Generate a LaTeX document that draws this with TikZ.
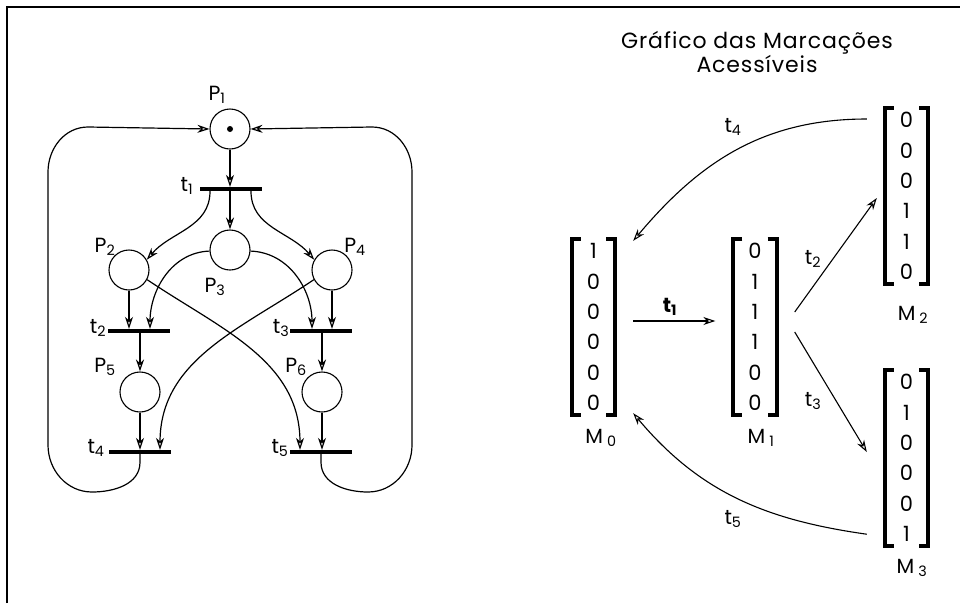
\documentclass[tikz,border=0pt]{standalone}
\usepackage{fontspec}
\setmainfont{Poppins}
\usetikzlibrary{positioning,arrows.meta,calc}
\tikzset{
  >={Stealth[open,length=12pt,width=8pt]},
  place/.style={circle,draw,line width=1.1pt,minimum size=40pt,inner sep=0pt},
  token/.style={circle,fill=black,minimum size=6pt,inner sep=0pt},
  trans/.style={fill=black,minimum width=62pt,minimum height=4pt,inner sep=0pt},
  arc/.style={->,line width=1.2pt},
  edge/.style={->,line width=1.1pt},
  lbl/.style={font=\fontsize{20.5}{22}\selectfont,inner sep=0pt},
  vec/.style={align=center,font=\fontsize{21}{30.4}\selectfont,minimum width=43pt,minimum height=176pt,inner sep=0pt},
  brk/.style={line width=4pt},
}
\begin{document}
\begin{tikzpicture}[x=1pt,y=-1pt]
  \useasboundingbox (0,0) rectangle (960,603);
  \draw[line width=2.5pt] (7,603) -- (7,7) -- (960,7);

  % rede de Petri
  \foreach \n/\x/\y in {1/230/129,2/129/270,3/230/250,4/332/270,5/140/392,6/322/392}
    \node[place] (P\n) at (\x,\y) {};
  \node[token] (tok) at (P1) {};
  \foreach \n/\x/\y in {1/217/95,2/105/247,3/215/287,4/355/247,5/105/367,6/296/367}
    \node[lbl] (lP\n) at (\x,\y) {P\textsubscript{\n}};
  \foreach \n/\x/\y in {1/187/186,2/98/328,3/281/328,4/96/448,5/280/448}
    \node[lbl] (lt\n) at (\x,\y) {t\textsubscript{\n}};
  \foreach \n/\x/\y in {1/231/189,2/139/331,3/321/331,4/140/452,5/321/452}
    \node[trans] (t\n) at (\x,\y) {};

  \draw[arc] (P1) -- (P1 |- t1.north);
  \draw[arc] (P3 |- t1.south) -- (P3);
  \draw[arc] ([xshift=-21]t1.south) to[out=-90,in=50] (P2.30);
  \draw[arc] ([xshift=20]t1.south) to[out=-90,in=130] (P4.150);
  \draw[arc] (P2) -- (P2 |- t2.north);
  \draw[arc] (P4) -- (P4 |- t3.north);
  \draw[arc] (P3.183) to[out=182,in=90] ([xshift=11]t2.north);
  \draw[arc] (P3.-3) to[out=-2,in=90] ([xshift=-9]t3.north);
  \draw[arc] (P2.-28) to[out=-34,in=90] ([xshift=-21]t5.north);
  \draw[arc] (P4.-152) to[out=-146,in=90] ([xshift=20]t4.north);
  \draw[arc] (t2.south -| P5) -- (P5);
  \draw[arc] (t3.south -| P6) -- (P6);
  \draw[arc] (P5) -- (P5 |- t4.north);
  \draw[arc] (P6) -- (P6 |- t5.north);
  % retorno a P1
  \draw[arc] (t4.south) -- ++(0,8) to[out=-90,in=0] (92,492) to[out=180,in=-90] (48,445)
    -- (48,172) to[out=90,in=180] (88,127) -- (P1.west);
  \draw[arc] (t5.south) -- ++(0,8) to[out=-90,in=180] (368,492) to[out=0,in=-90] (412,445)
    -- (412,172) to[out=90,in=0] (372,127) -- (P1.east);

  % grafo das marcacoes
  \node[font=\fontsize{22}{22}\selectfont\addfontfeatures{LetterSpace=4},align=center] (title) at (757,52)
    {Gráfico das Marcações\\Acessíveis};
  \foreach \n/\x/\y/\bits in {0/593.5/327/{1\\0\\0\\0\\0\\0},1/755/327/{0\\1\\1\\1\\0\\0},
      2/906.5/196/{0\\0\\0\\1\\1\\0},3/906.5/458/{0\\1\\0\\0\\0\\1}} {
    \node[vec] (M\n) at (\x,\y) {\bits};
    \draw[brk] ([xshift=9]M\n.north west) -- (M\n.north west) -- (M\n.south west) -- ++(9,0);
    \draw[brk] ([xshift=-9]M\n.north east) -- (M\n.north east) -- (M\n.south east) -- ++(-9,0);
  }
  \foreach \n/\x/\y in {0/601/438,1/761/438,2/913/315,3/912/568}
    \node[lbl] (lM\n) at (\x,\y) {M\hspace{4pt}\textsubscript{\n}};

  \draw[edge] ([shift={(18,-6)}]M0.east) -- ([shift={(-18,-6)}]M1.west);
  \draw[edge] ([shift={(18,-15)}]M1.east) -- ([shift={(-8,2)}]M2.west);
  \draw[edge] ([shift={(18,5)}]M1.east) -- ([shift={(-18,-6)}]M3.west);
  \draw[edge] ([shift={(-18,-77)}]M2.west) to[out=180,in=50] ([shift={(18,2)}]M0.north east);
  \draw[edge] ([shift={(-18,-12)}]M3.south west) to[out=172,in=-50] ([shift={(18,-2)}]M0.south east);
  \node[lbl] (et1) at (670,307) {\textbf{t\textsubscript{1}}};
  \node[lbl] (et2) at (813,259) {t\textsubscript{2}};
  \node[lbl] (et3) at (813,401) {t\textsubscript{3}};
  \node[lbl] (et4) at (733,127) {t\textsubscript{4}};
  \node[lbl] (et5) at (733,519) {t\textsubscript{5}};
\end{tikzpicture}
\end{document}
